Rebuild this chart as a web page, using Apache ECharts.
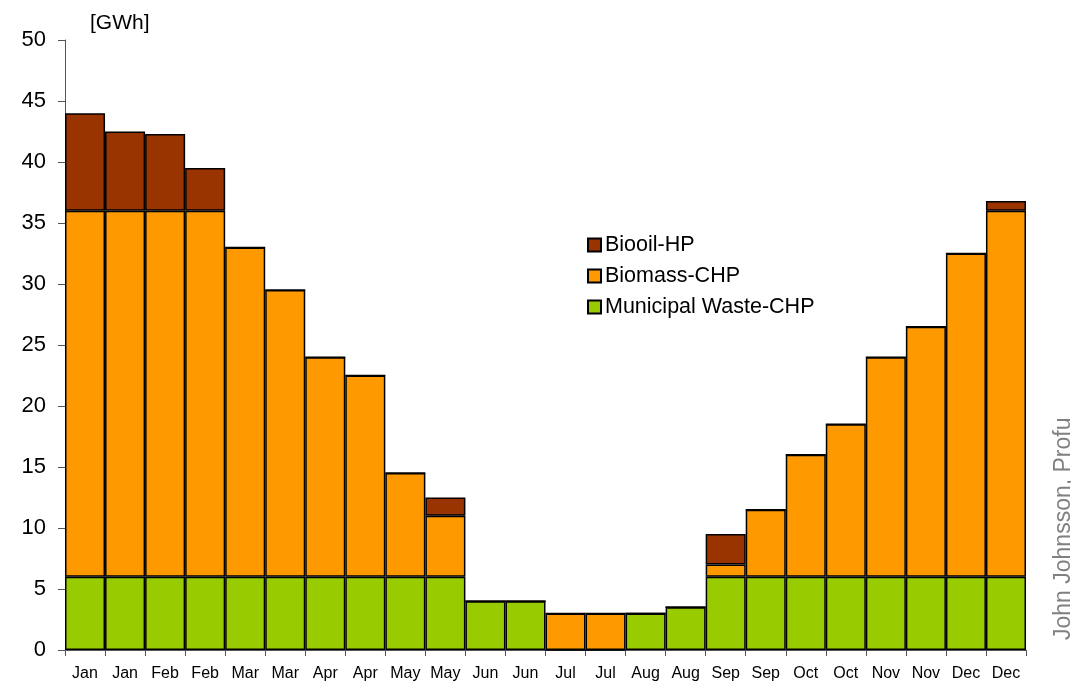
<!DOCTYPE html>
<html><head><meta charset="utf-8">
<script src="https://cdn.jsdelivr.net/npm/echarts@6/dist/echarts.min.js"></script>
<style>html,body{margin:0;padding:0;background:#fff}#c{width:1071px;height:683px}</style>
</head><body><div id="c"></div>
<script>
var categories = ['Jan','Jan','Feb','Feb','Mar','Mar','Apr','Apr','May','May','Jun','Jun','Jul','Jul','Aug','Aug','Sep','Sep','Oct','Oct','Nov','Nov','Dec','Dec'];
var municipalWaste = [6,6,6,6,6,6,6,6,6,6,4,4,0,0,3,3.5,6,6,6,6,6,6,6,6];
var biomass = [30,30,30,30,27,23.5,18,16.5,8.5,5,0,0,3,3,0,0,1,5.5,10,12.5,18,20.5,26.5,30];
var biooil = [8,6.5,6.3,3.5,0,0,0,0,0,1.5,0,0,0,0,0,0,2.5,0,0,0,0,0,0,0.8];
var yTicks = [0,5,10,15,20,25,30,35,40,45,50];

var chart = echarts.init(document.getElementById('c'));
var font = 'Liberation Sans, Arial, sans-serif';
function ser(name, data, color) {
  return {
    name: name, type: 'bar', stack: 'total', data: data,
    barCategoryGap: '0%',
    itemStyle: { color: color, borderColor: '#000', borderWidth: 1.5 }
  };
}
chart.setOption({
  animation: false,
  backgroundColor: '#fff',
  textStyle: { fontFamily: font },
  grid: { left: 65, right: 45, top: 40, bottom: 33 },
  legend: {
    orient: 'vertical', left: 587, top: 234, padding: 0,
    itemWidth: 13, itemHeight: 13, itemGap: 9,
    icon: 'rect',
    textStyle: { fontSize: 21.5, color: '#000', fontFamily: font, padding: [0,0,0,-1] },
    data: ['Biooil-HP','Biomass-CHP','Municipal Waste-CHP']
  },
  xAxis: {
    type: 'category', data: categories,
    axisLine: { lineStyle: { color: '#555', width: 1 } },
    axisTick: { show: true, length: 6, lineStyle: { color: '#555' } },
    axisLabel: { color: '#000', fontSize: 16, margin: 16, interval: 0, fontFamily: font }
  },
  yAxis: {
    type: 'value', min: yTicks[0], max: yTicks[yTicks.length-1], interval: 5,
    name: '[GWh]', nameLocation: 'end', nameGap: 6,
    nameTextStyle: { fontSize: 21, color: '#000', align: 'left', padding: [0,0,0,25], fontFamily: font },
    splitLine: { show: false },
    axisLine: { show: true, lineStyle: { color: '#555', width: 1 } },
    axisTick: { show: true, length: 7, lineStyle: { color: '#555' } },
    axisLabel: { color: '#000', fontSize: 22, margin: 19, fontFamily: font }
  },
  graphic: [{
    type: 'text', x: 1052, y: 640, rotation: Math.PI/2,
    style: { text: 'John Johnsson, Profu', fill: '#808080', fontSize: 23, fontFamily: font, textAlign: 'left', textVerticalAlign: 'top' }
  }],
  series: [
    ser('Municipal Waste-CHP', municipalWaste, '#99cc00'),
    ser('Biomass-CHP', biomass, '#ff9900'),
    ser('Biooil-HP', biooil, '#993300')
  ]
});
</script></body></html>
